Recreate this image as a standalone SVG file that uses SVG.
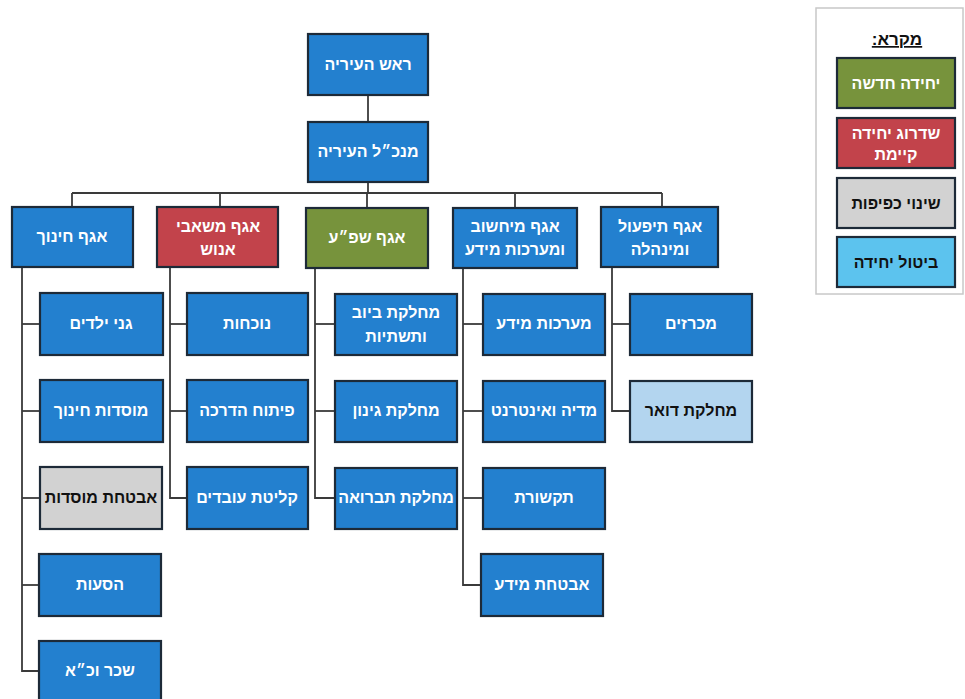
<svg xmlns="http://www.w3.org/2000/svg" width="965" height="699" viewBox="0 0 965 699">
<style>
.b{stroke:#1d2a38;stroke-width:2.2}
.blue{fill:#2380cf}
.red{fill:#c2434b}
.green{fill:#77933c}
.grey{fill:#d2d2d2}
.lblue{fill:#5cc3ee}
.pale{fill:#b3d5ef}
text{font-family:"Liberation Sans","DejaVu Sans",sans-serif;font-weight:bold;font-size:16px;text-anchor:middle;direction:rtl}
.w{fill:#ffffff}
.k{fill:#111111}
.c{fill:none;stroke:#3a3a3a;stroke-width:1.8}
</style>
<rect width="965" height="699" fill="#ffffff"/>
<g id="connectors" class="c">
<line x1="368" y1="95" x2="368" y2="122"/>
<line x1="368" y1="182" x2="368" y2="193"/>
<line x1="72" y1="193" x2="662" y2="193"/>
<line x1="72" y1="193" x2="72" y2="207"/>
<line x1="220" y1="193" x2="220" y2="207"/>
<line x1="367" y1="193" x2="367" y2="208"/>
<line x1="515" y1="193" x2="515" y2="208"/>
<line x1="662" y1="193" x2="662" y2="207"/>
<polyline points="22,267 22,671 39,671"/>
<line x1="22" y1="324" x2="40" y2="324"/>
<line x1="22" y1="411" x2="40" y2="411"/>
<line x1="22" y1="498" x2="40" y2="498"/>
<line x1="22" y1="585" x2="39" y2="585"/>
<polyline points="170,267 170,498 187,498"/>
<line x1="170" y1="324" x2="187" y2="324"/>
<line x1="170" y1="411" x2="187" y2="411"/>
<polyline points="315,268 315,498 335,498"/>
<line x1="315" y1="324" x2="335" y2="324"/>
<line x1="315" y1="411" x2="335" y2="411"/>
<polyline points="463,268 463,585 481,585"/>
<line x1="463" y1="324" x2="483" y2="324"/>
<line x1="463" y1="411" x2="483" y2="411"/>
<line x1="463" y1="498" x2="483" y2="498"/>
<polyline points="612,267 612,411 630,411"/>
<line x1="612" y1="324" x2="630" y2="324"/>
</g>
<g id="mayor"><rect class="b blue" x="308" y="34" width="120" height="61"/><text class="w" x="368" y="70">ראש העיריה</text></g>
<g id="ceo"><rect class="b blue" x="308" y="122" width="120" height="60"/><text class="w" x="368" y="157">מנכ״ל העיריה</text></g>
<g id="edu"><rect class="b blue" x="12" y="207" width="121" height="60"/><text class="w" x="72" y="242">אגף חינוך</text></g>
<g id="hr"><rect class="b red" x="157" y="207" width="121" height="60"/><text class="w" x="218" y="232">אגף משאבי</text><text class="w" x="218" y="255">אנוש</text></g>
<g id="spa"><rect class="b green" x="306" y="208" width="122" height="60"/><text class="w" x="367" y="243">אגף שפ״ע</text></g>
<g id="it"><rect class="b blue" x="453" y="208" width="124" height="60"/><text class="w" x="515" y="232">אגף מיחשוב</text><text class="w" x="515" y="255">ומערכות מידע</text></g>
<g id="ops"><rect class="b blue" x="601" y="207" width="117" height="60"/><text class="w" x="660" y="232">אגף תיפעול</text><text class="w" x="660" y="255">ומינהלה</text></g>
<g id="kindergartens"><rect class="b blue" x="40" y="293" width="123" height="62"/><text class="w" x="101" y="329">גני ילדים</text></g>
<g id="edu-institutions"><rect class="b blue" x="40" y="380" width="123" height="62"/><text class="w" x="101" y="416">מוסדות חינוך</text></g>
<g id="inst-security"><rect class="b grey" x="40" y="467" width="122" height="62"/><text class="k" x="101" y="503">אבטחת מוסדות</text></g>
<g id="transport"><rect class="b blue" x="39" y="554" width="122" height="62"/><text class="w" x="100" y="590">הסעות</text></g>
<g id="payroll"><rect class="b blue" x="39" y="641" width="122" height="62"/><text class="w" x="100" y="676">שכר וכ״א</text></g>
<g id="attendance"><rect class="b blue" x="187" y="293" width="121" height="62"/><text class="w" x="247" y="329">נוכחות</text></g>
<g id="training"><rect class="b blue" x="187" y="380" width="121" height="62"/><text class="w" x="247" y="416">פיתוח הדרכה</text></g>
<g id="onboarding"><rect class="b blue" x="187" y="467" width="121" height="62"/><text class="w" x="247" y="503">קליטת עובדים</text></g>
<g id="sewage"><rect class="b blue" x="335" y="294" width="122" height="61"/><text class="w" x="396" y="318">מחלקת ביוב</text><text class="w" x="396" y="342">ותשתיות</text></g>
<g id="gardening"><rect class="b blue" x="335" y="381" width="122" height="61"/><text class="w" x="396" y="416">מחלקת גינון</text></g>
<g id="lighting"><rect class="b blue" x="335" y="468" width="122" height="61"/><text class="w" x="396" y="503">מחלקת תברואה</text></g>
<g id="info-systems"><rect class="b blue" x="483" y="294" width="122" height="61"/><text class="w" x="544" y="329">מערכות מידע</text></g>
<g id="media"><rect class="b blue" x="483" y="381" width="122" height="61"/><text class="w" x="544" y="416">מדיה ואינטרנט</text></g>
<g id="comms"><rect class="b blue" x="483" y="468" width="122" height="61"/><text class="w" x="544" y="503">תקשורת</text></g>
<g id="info-security"><rect class="b blue" x="481" y="554" width="122" height="62"/><text class="w" x="542" y="590">אבטחת מידע</text></g>
<g id="tenders"><rect class="b blue" x="630" y="294" width="122" height="61"/><text class="w" x="691" y="329">מכרזים</text></g>
<g id="mail"><rect class="b pale" x="630" y="381" width="122" height="61"/><text class="k" x="691" y="416">מחלקת דואר</text></g>
<g id="legend">
<rect x="816" y="8" width="147" height="286" fill="#ffffff" stroke="#c8c8c8" stroke-width="1.5"/>
<text class="k" x="897" y="45" style="font-size:17px" text-decoration="underline">מקרא:</text>
<rect class="b green" x="837" y="58" width="118" height="50"/><text class="w" x="896" y="89">יחידה חדשה</text>
<rect class="b red" x="837" y="118" width="118" height="50"/><text class="w" x="896" y="139">שדרוג יחידה</text><text class="w" x="896" y="160">קיימת</text>
<rect class="b grey" x="837" y="178" width="118" height="50"/><text class="k" x="896" y="209">שינוי כפיפות</text>
<rect class="b lblue" x="837" y="237" width="118" height="50"/><text class="k" x="896" y="268">ביטול יחידה</text>
</g>
</svg>
